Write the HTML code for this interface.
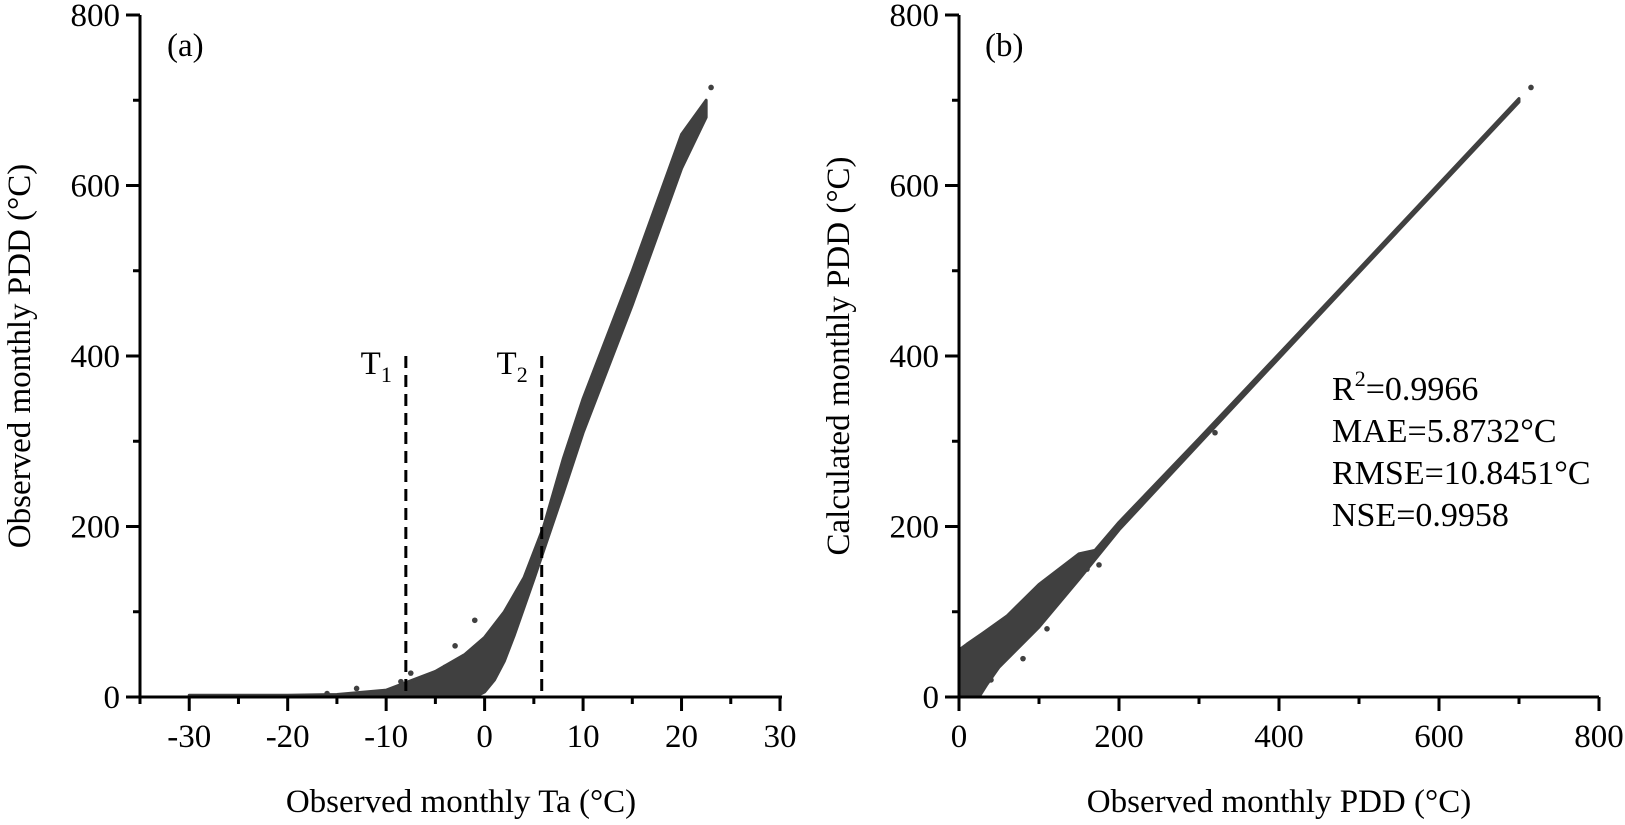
<!DOCTYPE html>
<html><head><meta charset="utf-8">
<style>
html,body{margin:0;padding:0;background:#fff;}
svg{display:block;font-family:"Liberation Serif",serif;}
</style></head>
<body>
<svg id="chart" width="1625" height="825" viewBox="0 0 1625 825"></svg>
<script>
// ---- data: panel (a) ----
const aXTicks = [-30,-20,-10,0,10,20,30];
const aXMinor = [-35,-25,-15,-5,5,15,25];
const yTicks = [0,200,400,600,800];
const yMinor = [100,300,500,700];
const aUpperTa  = [-30,-20,-15,-10,-5,-2,0,2,4,6,8,10,15,20,22.5];
const aUpperPdd = [2,2,3,8,30,50,70,100,140,200,280,350,500,660,700];
const aLowerTa  = [-30,-1,0,1,2,3,5,8,10,15,20,22.5];
const aLowerPdd = [0,0,6,20,42,72,138,240,310,460,620,680];
const aOutTa  = [-16,-13,-8.5,-7.5,-6,-4,-3,-1,23];
const aOutPdd = [4,10,18,28,20,35,60,90,715];
const aT = [-8,5.8];
const aTNames = ["T1","T2"];
// ---- data: panel (b) ----
const bXTicks = [0,200,400,600,800];
const bXMinor = [100,300,500,700];
const bUpperX = [0,10,30,60,100,150,170,200,300,500,700];
const bUpperY = [55,62,75,95,132,168,172,205,303,502,702];
const bLowerX = [0,25,35,50,100,150,200,300,500,700];
const bLowerY = [0,0,15,35,82,138,196,297,498,698];
const bOutX = [15,25,40,80,110,160,175,320,715];
const bOutY = [10,5,20,45,80,150,155,310,715];

const NS="http://www.w3.org/2000/svg";
const svg=document.getElementById('chart');
function mk(tag,attrs,parent){const e=document.createElementNS(NS,tag);for(const k in attrs)e.setAttribute(k,attrs[k]);(parent||svg).appendChild(e);return e;}
const Y0=697, YS=682/800;
const yv=v=>Y0-v*YS;
const xa=v=>140+(v+35)*(640/65);
const xb=v=>959+v*0.8;
const C="#404040";

function band(xs1,ys1,xs2,ys2,fx,name){
  let pts=[];
  for(let i=0;i<xs1.length;i++)pts.push(fx(xs1[i])+","+yv(ys1[i]));
  for(let i=xs2.length-1;i>=0;i--)pts.push(fx(xs2[i])+","+yv(ys2[i]));
  const p=mk('polygon',{points:pts.join(' '),fill:C,stroke:C,'stroke-width':3,'stroke-linejoin':'round'});
  
  
}
function pts(xs,ys,fx,name){
  for(let i=0;i<xs.length;i++){
    const c=mk('circle',{cx:fx(xs[i]),cy:yv(ys[i]),r:2.8,fill:C});
    
    
  }
}
function axes(x0,x1,fx,xt,xm,title,ytitle,panel){
  const g=mk('g',{});
  
  
  mk('line',{x1:x0,y1:Y0,x2:x1,y2:Y0,stroke:'#000','stroke-width':3},g);
  mk('line',{x1:x0,y1:Y0+1.5,x2:x0,y2:yv(800),stroke:'#000','stroke-width':3},g);
  xt.forEach(v=>{mk('line',{x1:fx(v),y1:Y0,x2:fx(v),y2:Y0+14,stroke:'#000','stroke-width':3},g);
    const t=mk('text',{x:fx(v),y:Y0+50,'font-size':33,'text-anchor':'middle'},g);t.textContent=v;
    
    });
  xm.forEach(v=>mk('line',{x1:fx(v),y1:Y0,x2:fx(v),y2:Y0+7,stroke:'#000','stroke-width':3},g));
  yTicks.forEach(v=>{mk('line',{x1:x0-14,y1:yv(v),x2:x0,y2:yv(v),stroke:'#000','stroke-width':3},g);
    const t=mk('text',{x:x0-20,y:yv(v)+11,'font-size':33,'text-anchor':'end'},g);t.textContent=v;
    
    });
  yMinor.forEach(v=>mk('line',{x1:x0-7,y1:yv(v),x2:x0,y2:yv(v),stroke:'#000','stroke-width':3},g));
  const xt2=mk('text',{x:(x0+x1)/2,y:812,'font-size':33,'text-anchor':'middle'},g);xt2.textContent=title;
  
  
  const cy=(Y0+yv(800))/2, cx=x0-110;
  const yt=mk('text',{x:cx,y:cy,'font-size':33,'text-anchor':'middle',transform:`rotate(-90 ${cx} ${cy})`},g);yt.textContent=ytitle;
  
  
}

// panel a
band(aUpperTa,aUpperPdd,aLowerTa,aLowerPdd,xa,'scatter-band-a');
pts(aOutTa,aOutPdd,xa,'scatter-point-a');
aT.forEach((v,i)=>{
  const l=mk('line',{x1:xa(v),y1:yv(400),x2:xa(v),y2:Y0,stroke:'#000','stroke-width':3,'stroke-dasharray':'12,7'});
  
  
  const t=mk('text',{x:xa(v)-14,y:yv(400)+18,'font-size':33,'text-anchor':'end'});
  t.innerHTML='T<tspan font-size="22" dy="8">'+aTNames[i].slice(1)+'</tspan>';
  
  
});
axes(140,782,xa,aXTicks,aXMinor,'Observed monthly Ta (°C)','Observed monthly PDD (°C)','panel-a');
const la=mk('text',{x:167,y:56,'font-size':33});la.textContent='(a)';



// panel b
band(bUpperX,bUpperY,bLowerX,bLowerY,xb,'scatter-band-b');
pts(bOutX,bOutY,xb,'scatter-point-b');
axes(959,1599,xb,bXTicks,bXMinor,'Observed monthly PDD (°C)','Calculated monthly PDD (°C)','panel-b');
const lb=mk('text',{x:985,y:56,'font-size':33});lb.textContent='(b)';


const stats=['R<tspan font-size="22" dy="-14">2</tspan><tspan dy="14">=0.9966</tspan>','MAE=5.8732°C','RMSE=10.8451°C','NSE=0.9958'];
stats.forEach((s,i)=>{const t=mk('text',{x:1332,y:400+i*42,'font-size':34});t.innerHTML=s;
  
  });
</script>
</body></html>
